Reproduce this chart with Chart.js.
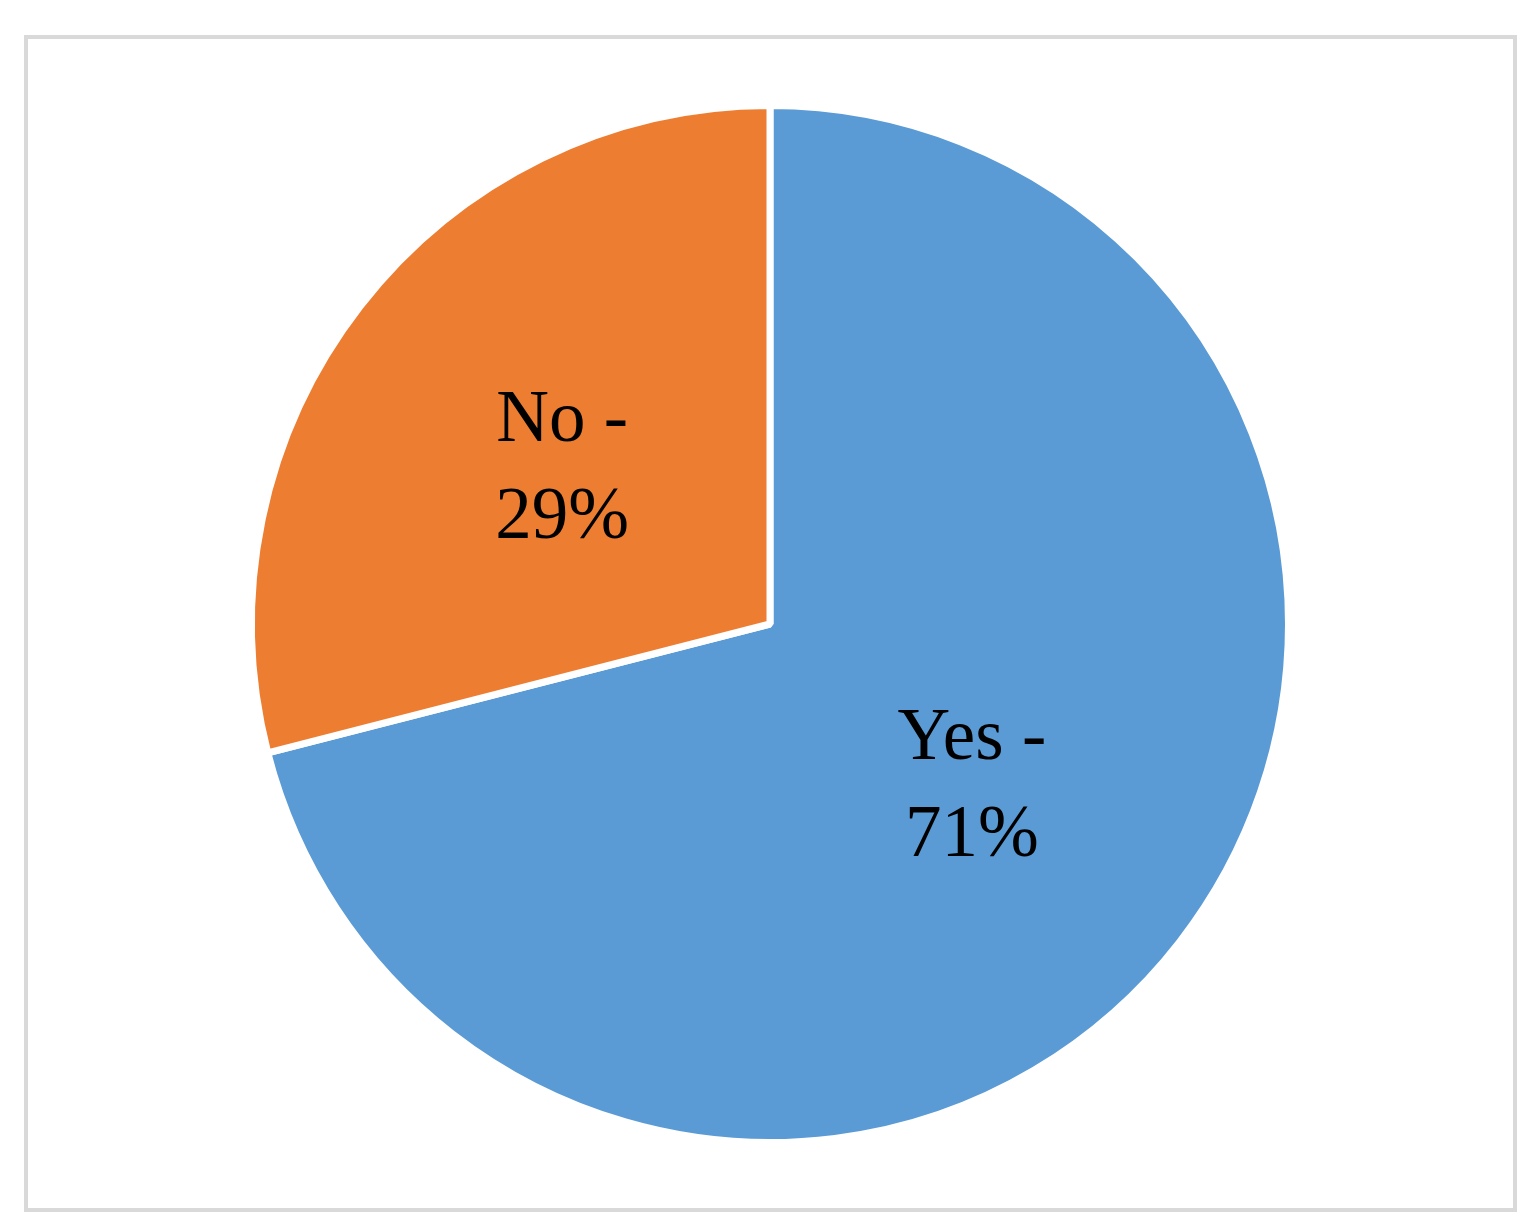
<!DOCTYPE html>
<html>
<head>
<meta charset="utf-8">
<script src="https://cdn.jsdelivr.net/npm/chart.js@4/dist/chart.umd.min.js"></script>
<style>
  html, body { margin: 0; padding: 0; background: #fff; }
  #wrap { position: relative; width: 1539px; height: 1232px; }
  #frame {
    position: absolute; left: 24px; top: 35px;
    width: 1485px; height: 1169px;
    border: 4px solid #d9d9d9;
  }
  canvas { position: absolute; left: 0; top: 0; }
</style>
</head>
<body>
<div id="wrap">
  <div id="frame"></div>
  <canvas id="chart" width="1539" height="1232"></canvas>
</div>
<script>
const labels = ["Yes", "No"];
const shares = [71, 29];
const colors = ["#5B9BD5", "#ED7D31"];

// draw "Label -" / "NN%" in the middle of each slice
const sliceLabels = {
  id: "sliceLabels",
  afterDatasetsDraw(chart) {
    const ctx = chart.ctx;
    const meta = chart.getDatasetMeta(0);
    ctx.save();
    ctx.fillStyle = "#000";
    ctx.font = "73px 'Liberation Serif', serif";
    ctx.textAlign = "center";
    ctx.textBaseline = "alphabetic";
    meta.data.forEach((arc, i) => {
      const p = arc.tooltipPosition();
      ctx.fillText(labels[i] + " -", p.x - 3, p.y - 24);
      ctx.fillText(shares[i] + "%", p.x - 3, p.y + 73);
    });
    ctx.restore();
  }
};

new Chart(document.getElementById("chart"), {
  type: "pie",
  data: {
    labels: labels,
    datasets: [{
      data: shares,
      backgroundColor: colors,
      borderColor: "#ffffff",
      borderWidth: 7
    }]
  },
  options: {
    responsive: false,
    animation: false,
    layout: { padding: { top: 102, bottom: 86, left: 200, right: 199 } },
    plugins: {
      legend: { display: false },
      tooltip: { enabled: false }
    }
  },
  plugins: [sliceLabels]
});
</script>
</body>
</html>
